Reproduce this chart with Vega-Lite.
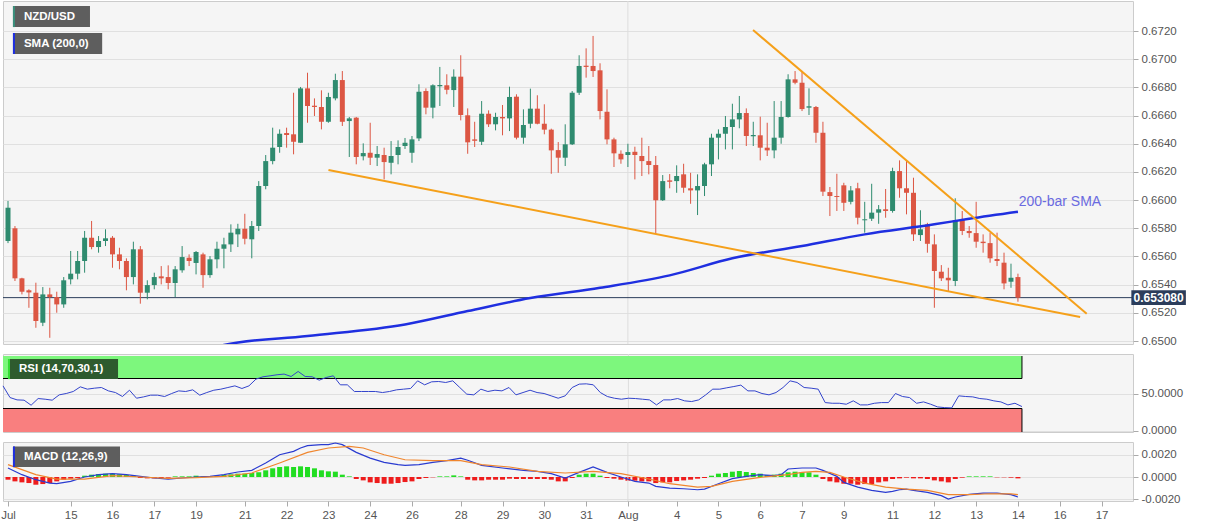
{
  "$schema": "https://vega.github.io/schema/vega-lite/v6.json",
  "padding": 0,
  "background": "#ffffff",
  "spacing": 10,
  "bounds": "flush",
  "config": {
    "font": "Liberation Sans",
    "view": {"fill": "#f5f5f5", "stroke": "#cccccc"},
    "axis": {"domain": false, "labelColor": "#555555", "labelFontSize": 11.5, "tickColor": "#aaaaaa", "tickSize": 5, "labelPadding": 3, "gridColor": "#e0e0e0", "labelOverlap": false}
  },
  "datasets": {
    "bars": [
      {"i":0,"o":0.65710,"h":0.65994,"l":0.65695,"c":0.65946,"rsi":60.2,"hist":-0.00024},
      {"i":1,"o":0.65800,"h":0.65816,"l":0.65426,"c":0.65445,"rsi":44.6,"hist":-0.00039},
      {"i":2,"o":0.65445,"h":0.65449,"l":0.65331,"c":0.65350,"rsi":41.5,"hist":-0.00048},
      {"i":3,"o":0.65360,"h":0.65367,"l":0.65236,"c":0.65345,"rsi":41.1,"hist":-0.00054},
      {"i":4,"o":0.65343,"h":0.65414,"l":0.65094,"c":0.65142,"rsi":34.4,"hist":-0.00069},
      {"i":5,"o":0.65130,"h":0.65383,"l":0.65106,"c":0.65331,"rsi":43.3,"hist":-0.00063},
      {"i":6,"o":0.65331,"h":0.65378,"l":0.65023,"c":0.65312,"rsi":42.4,"hist":-0.00054},
      {"i":7,"o":0.65312,"h":0.65350,"l":0.65201,"c":0.65260,"rsi":41.1,"hist":-0.00039},
      {"i":8,"o":0.65260,"h":0.65454,"l":0.65236,"c":0.65431,"rsi":48.2,"hist":-0.00024},
      {"i":9,"o":0.65438,"h":0.65639,"l":0.65402,"c":0.65478,"rsi":50.0,"hist":-0.00015},
      {"i":10,"o":0.65478,"h":0.65639,"l":0.65438,"c":0.65568,"rsi":52.7,"hist":-0.00009},
      {"i":11,"o":0.65568,"h":0.65781,"l":0.65485,"c":0.65733,"rsi":58.9,"hist":0.00012},
      {"i":12,"o":0.65733,"h":0.65852,"l":0.65651,"c":0.65667,"rsi":55.8,"hist":0.00021},
      {"i":13,"o":0.65667,"h":0.65745,"l":0.65627,"c":0.65710,"rsi":57.1,"hist":0.00027},
      {"i":14,"o":0.65710,"h":0.65793,"l":0.65674,"c":0.65729,"rsi":58.0,"hist":0.00030},
      {"i":15,"o":0.65733,"h":0.65745,"l":0.65520,"c":0.65615,"rsi":53.5,"hist":0.00030},
      {"i":16,"o":0.65615,"h":0.65662,"l":0.65509,"c":0.65568,"rsi":51.3,"hist":0.00024},
      {"i":17,"o":0.65568,"h":0.65587,"l":0.65360,"c":0.65454,"rsi":46.0,"hist":0.00018},
      {"i":18,"o":0.65454,"h":0.65705,"l":0.65402,"c":0.65651,"rsi":54.4,"hist":0.00012},
      {"i":19,"o":0.65651,"h":0.65674,"l":0.65265,"c":0.65343,"rsi":43.7,"hist":-0.00009},
      {"i":20,"o":0.65343,"h":0.65431,"l":0.65296,"c":0.65397,"rsi":45.5,"hist":-0.00012},
      {"i":21,"o":0.65397,"h":0.65485,"l":0.65367,"c":0.65454,"rsi":47.8,"hist":-0.00012},
      {"i":22,"o":0.65459,"h":0.65532,"l":0.65402,"c":0.65445,"rsi":47.8,"hist":-0.00009},
      {"i":23,"o":0.65454,"h":0.65537,"l":0.65367,"c":0.65412,"rsi":46.0,"hist":-0.00006},
      {"i":24,"o":0.65412,"h":0.65532,"l":0.65312,"c":0.65509,"rsi":50.0,"hist":0.00006},
      {"i":25,"o":0.65502,"h":0.65674,"l":0.65485,"c":0.65596,"rsi":53.5,"hist":0.00006},
      {"i":26,"o":0.65591,"h":0.65615,"l":0.65532,"c":0.65568,"rsi":52.7,"hist":0.00006},
      {"i":27,"o":0.65554,"h":0.65639,"l":0.65473,"c":0.65632,"rsi":54.9,"hist":0.00012},
      {"i":28,"o":0.65615,"h":0.65627,"l":0.65378,"c":0.65468,"rsi":47.8,"hist":0.00006},
      {"i":29,"o":0.65468,"h":0.65603,"l":0.65449,"c":0.65580,"rsi":51.3,"hist":0.00006},
      {"i":30,"o":0.65580,"h":0.65705,"l":0.65516,"c":0.65655,"rsi":54.4,"hist":0.00012},
      {"i":31,"o":0.65655,"h":0.65733,"l":0.65516,"c":0.65686,"rsi":55.8,"hist":0.00018},
      {"i":32,"o":0.65686,"h":0.65828,"l":0.65632,"c":0.65769,"rsi":58.0,"hist":0.00024},
      {"i":33,"o":0.65757,"h":0.65832,"l":0.65667,"c":0.65797,"rsi":60.2,"hist":0.00030},
      {"i":34,"o":0.65797,"h":0.65903,"l":0.65686,"c":0.65726,"rsi":56.7,"hist":0.00030},
      {"i":35,"o":0.65722,"h":0.65852,"l":0.65587,"c":0.65816,"rsi":60.2,"hist":0.00036},
      {"i":36,"o":0.65816,"h":0.66135,"l":0.65781,"c":0.66100,"rsi":69.2,"hist":0.00042},
      {"i":37,"o":0.66100,"h":0.66320,"l":0.66077,"c":0.66277,"rsi":72.3,"hist":0.00060},
      {"i":38,"o":0.66277,"h":0.66514,"l":0.66254,"c":0.66372,"rsi":73.6,"hist":0.00078},
      {"i":39,"o":0.66377,"h":0.66502,"l":0.66336,"c":0.66471,"rsi":75.0,"hist":0.00090},
      {"i":40,"o":0.66476,"h":0.66514,"l":0.66372,"c":0.66462,"rsi":75.9,"hist":0.00096},
      {"i":41,"o":0.66467,"h":0.66762,"l":0.66325,"c":0.66414,"rsi":72.7,"hist":0.00090},
      {"i":42,"o":0.66407,"h":0.66803,"l":0.66405,"c":0.66793,"rsi":79.4,"hist":0.00096},
      {"i":43,"o":0.66793,"h":0.66904,"l":0.66549,"c":0.66668,"rsi":72.7,"hist":0.00090},
      {"i":44,"o":0.66670,"h":0.66722,"l":0.66597,"c":0.66661,"rsi":72.3,"hist":0.00078},
      {"i":45,"o":0.66661,"h":0.66779,"l":0.66502,"c":0.66556,"rsi":67.8,"hist":0.00060},
      {"i":46,"o":0.66556,"h":0.66762,"l":0.66549,"c":0.66732,"rsi":71.4,"hist":0.00051},
      {"i":47,"o":0.66722,"h":0.66897,"l":0.66708,"c":0.66852,"rsi":73.6,"hist":0.00048},
      {"i":48,"o":0.66852,"h":0.66916,"l":0.66526,"c":0.66556,"rsi":61.6,"hist":0.00021},
      {"i":49,"o":0.66561,"h":0.66590,"l":0.66306,"c":0.66580,"rsi":61.6,"hist":0.00006},
      {"i":50,"o":0.66585,"h":0.66590,"l":0.66254,"c":0.66306,"rsi":52.7,"hist":-0.00018},
      {"i":51,"o":0.66311,"h":0.66403,"l":0.66282,"c":0.66334,"rsi":52.7,"hist":-0.00030},
      {"i":52,"o":0.66336,"h":0.66549,"l":0.66249,"c":0.66301,"rsi":52.7,"hist":-0.00048},
      {"i":53,"o":0.66301,"h":0.66384,"l":0.66242,"c":0.66327,"rsi":52.7,"hist":-0.00054},
      {"i":54,"o":0.66320,"h":0.66372,"l":0.66147,"c":0.66270,"rsi":51.3,"hist":-0.00060},
      {"i":55,"o":0.66265,"h":0.66419,"l":0.66183,"c":0.66313,"rsi":52.7,"hist":-0.00060},
      {"i":56,"o":0.66320,"h":0.66424,"l":0.66254,"c":0.66377,"rsi":54.9,"hist":-0.00054},
      {"i":57,"o":0.66384,"h":0.66441,"l":0.66363,"c":0.66407,"rsi":55.8,"hist":-0.00045},
      {"i":58,"o":0.66336,"h":0.66455,"l":0.66265,"c":0.66431,"rsi":56.7,"hist":-0.00039},
      {"i":59,"o":0.66438,"h":0.66822,"l":0.66419,"c":0.66769,"rsi":66.9,"hist":-0.00018},
      {"i":60,"o":0.66774,"h":0.66793,"l":0.66609,"c":0.66656,"rsi":61.6,"hist":-0.00009},
      {"i":61,"o":0.66656,"h":0.66822,"l":0.66580,"c":0.66815,"rsi":65.6,"hist":-0.00003},
      {"i":62,"o":0.66808,"h":0.66945,"l":0.66668,"c":0.66817,"rsi":66.0,"hist":0.00006},
      {"i":63,"o":0.66815,"h":0.66893,"l":0.66751,"c":0.66783,"rsi":64.7,"hist":0.00006},
      {"i":64,"o":0.66781,"h":0.66928,"l":0.66661,"c":0.66876,"rsi":66.9,"hist":0.00015},
      {"i":65,"o":0.66876,"h":0.67028,"l":0.66566,"c":0.66604,"rsi":58.0,"hist":0.00006},
      {"i":66,"o":0.66602,"h":0.66651,"l":0.66329,"c":0.66410,"rsi":49.1,"hist":-0.00024},
      {"i":67,"o":0.66431,"h":0.66556,"l":0.66377,"c":0.66421,"rsi":48.2,"hist":-0.00030},
      {"i":68,"o":0.66414,"h":0.66703,"l":0.66391,"c":0.66613,"rsi":55.8,"hist":-0.00030},
      {"i":69,"o":0.66613,"h":0.66637,"l":0.66519,"c":0.66538,"rsi":52.7,"hist":-0.00024},
      {"i":70,"o":0.66538,"h":0.66620,"l":0.66495,"c":0.66590,"rsi":54.4,"hist":-0.00024},
      {"i":71,"o":0.66590,"h":0.66675,"l":0.66460,"c":0.66580,"rsi":53.5,"hist":-0.00024},
      {"i":72,"o":0.66580,"h":0.66805,"l":0.66490,"c":0.66732,"rsi":58.0,"hist":-0.00015},
      {"i":73,"o":0.66734,"h":0.66751,"l":0.66431,"c":0.66443,"rsi":48.2,"hist":-0.00018},
      {"i":74,"o":0.66443,"h":0.66644,"l":0.66400,"c":0.66533,"rsi":51.3,"hist":-0.00018},
      {"i":75,"o":0.66542,"h":0.66791,"l":0.66510,"c":0.66649,"rsi":54.4,"hist":-0.00018},
      {"i":76,"o":0.66649,"h":0.66744,"l":0.66538,"c":0.66542,"rsi":51.3,"hist":-0.00018},
      {"i":77,"o":0.66542,"h":0.66680,"l":0.66467,"c":0.66500,"rsi":50.0,"hist":-0.00018},
      {"i":78,"o":0.66500,"h":0.66507,"l":0.66187,"c":0.66353,"rsi":46.9,"hist":-0.00024},
      {"i":79,"o":0.66355,"h":0.66412,"l":0.66194,"c":0.66301,"rsi":43.7,"hist":-0.00039},
      {"i":80,"o":0.66301,"h":0.66538,"l":0.66242,"c":0.66396,"rsi":46.9,"hist":-0.00039},
      {"i":81,"o":0.66396,"h":0.66774,"l":0.66391,"c":0.66762,"rsi":58.0,"hist":-0.00009},
      {"i":82,"o":0.66762,"h":0.67028,"l":0.66746,"c":0.66952,"rsi":62.5,"hist":0.00021},
      {"i":83,"o":0.66954,"h":0.67077,"l":0.66869,"c":0.66945,"rsi":62.9,"hist":0.00030},
      {"i":84,"o":0.66952,"h":0.67165,"l":0.66874,"c":0.66916,"rsi":61.6,"hist":0.00030},
      {"i":85,"o":0.66921,"h":0.66971,"l":0.66573,"c":0.66632,"rsi":51.3,"hist":0.00012},
      {"i":86,"o":0.66627,"h":0.66786,"l":0.66396,"c":0.66431,"rsi":46.0,"hist":-0.00009},
      {"i":87,"o":0.66431,"h":0.66443,"l":0.66235,"c":0.66332,"rsi":43.7,"hist":-0.00015},
      {"i":88,"o":0.66329,"h":0.66353,"l":0.66258,"c":0.66289,"rsi":42.4,"hist":-0.00024},
      {"i":89,"o":0.66320,"h":0.66400,"l":0.66235,"c":0.66341,"rsi":43.7,"hist":-0.00033},
      {"i":90,"o":0.66343,"h":0.66379,"l":0.66147,"c":0.66320,"rsi":43.3,"hist":-0.00033},
      {"i":91,"o":0.66313,"h":0.66443,"l":0.66171,"c":0.66277,"rsi":42.4,"hist":-0.00039},
      {"i":92,"o":0.66277,"h":0.66384,"l":0.66183,"c":0.66249,"rsi":41.5,"hist":-0.00039},
      {"i":93,"o":0.66249,"h":0.66313,"l":0.65761,"c":0.65999,"rsi":34.8,"hist":-0.00054},
      {"i":94,"o":0.65999,"h":0.66178,"l":0.65994,"c":0.66135,"rsi":41.5,"hist":-0.00048},
      {"i":95,"o":0.66140,"h":0.66185,"l":0.66084,"c":0.66130,"rsi":41.5,"hist":-0.00048},
      {"i":96,"o":0.66135,"h":0.66247,"l":0.66052,"c":0.66171,"rsi":43.3,"hist":-0.00036},
      {"i":97,"o":0.66183,"h":0.66258,"l":0.66052,"c":0.66088,"rsi":40.2,"hist":-0.00030},
      {"i":98,"o":0.66084,"h":0.66194,"l":0.65974,"c":0.66069,"rsi":39.3,"hist":-0.00024},
      {"i":99,"o":0.66069,"h":0.66183,"l":0.65894,"c":0.66100,"rsi":41.5,"hist":-0.00015},
      {"i":100,"o":0.66100,"h":0.66265,"l":0.66029,"c":0.66254,"rsi":48.2,"hist":-0.00009},
      {"i":101,"o":0.66254,"h":0.66471,"l":0.66171,"c":0.66443,"rsi":55.8,"hist":0.00012},
      {"i":102,"o":0.66443,"h":0.66502,"l":0.66289,"c":0.66471,"rsi":55.8,"hist":0.00030},
      {"i":103,"o":0.66471,"h":0.66597,"l":0.66360,"c":0.66519,"rsi":57.6,"hist":0.00036},
      {"i":104,"o":0.66519,"h":0.66684,"l":0.66360,"c":0.66573,"rsi":59.3,"hist":0.00048},
      {"i":105,"o":0.66573,"h":0.66739,"l":0.66510,"c":0.66618,"rsi":61.2,"hist":0.00054},
      {"i":106,"o":0.66618,"h":0.66651,"l":0.66384,"c":0.66455,"rsi":53.5,"hist":0.00045},
      {"i":107,"o":0.66453,"h":0.66556,"l":0.66384,"c":0.66462,"rsi":53.5,"hist":0.00036},
      {"i":108,"o":0.66460,"h":0.66592,"l":0.66282,"c":0.66372,"rsi":50.0,"hist":0.00030},
      {"i":109,"o":0.66372,"h":0.66549,"l":0.66313,"c":0.66353,"rsi":48.2,"hist":0.00018},
      {"i":110,"o":0.66353,"h":0.66703,"l":0.66297,"c":0.66443,"rsi":51.3,"hist":0.00021},
      {"i":111,"o":0.66443,"h":0.66703,"l":0.66400,"c":0.66590,"rsi":58.0,"hist":0.00030},
      {"i":112,"o":0.66590,"h":0.66893,"l":0.66585,"c":0.66857,"rsi":66.9,"hist":0.00042},
      {"i":113,"o":0.66857,"h":0.66916,"l":0.66822,"c":0.66833,"rsi":64.7,"hist":0.00048},
      {"i":114,"o":0.66833,"h":0.66916,"l":0.66632,"c":0.66646,"rsi":58.0,"hist":0.00042},
      {"i":115,"o":0.66656,"h":0.66793,"l":0.66604,"c":0.66666,"rsi":57.1,"hist":0.00042},
      {"i":116,"o":0.66661,"h":0.66668,"l":0.66407,"c":0.66478,"rsi":55.8,"hist":0.00021},
      {"i":117,"o":0.66478,"h":0.66556,"l":0.66029,"c":0.66060,"rsi":37.9,"hist":-0.00018},
      {"i":118,"o":0.66057,"h":0.66093,"l":0.65887,"c":0.66029,"rsi":37.0,"hist":-0.00039},
      {"i":119,"o":0.66029,"h":0.66187,"l":0.65923,"c":0.66022,"rsi":37.0,"hist":-0.00048},
      {"i":120,"o":0.66105,"h":0.66123,"l":0.65923,"c":0.65981,"rsi":35.7,"hist":-0.00060},
      {"i":121,"o":0.65988,"h":0.66100,"l":0.65970,"c":0.66069,"rsi":40.2,"hist":-0.00060},
      {"i":122,"o":0.66084,"h":0.66123,"l":0.65828,"c":0.65875,"rsi":34.8,"hist":-0.00069},
      {"i":123,"o":0.65857,"h":0.65988,"l":0.65769,"c":0.65864,"rsi":34.8,"hist":-0.00063},
      {"i":124,"o":0.65868,"h":0.66116,"l":0.65852,"c":0.65911,"rsi":37.0,"hist":-0.00063},
      {"i":125,"o":0.65911,"h":0.65965,"l":0.65832,"c":0.65935,"rsi":37.9,"hist":-0.00048},
      {"i":126,"o":0.65935,"h":0.66079,"l":0.65875,"c":0.65923,"rsi":37.9,"hist":-0.00039},
      {"i":127,"o":0.65923,"h":0.66230,"l":0.65911,"c":0.66206,"rsi":50.0,"hist":-0.00018},
      {"i":128,"o":0.66206,"h":0.66282,"l":0.66017,"c":0.66084,"rsi":46.0,"hist":-0.00012},
      {"i":129,"o":0.66084,"h":0.66277,"l":0.65899,"c":0.66052,"rsi":44.6,"hist":-0.00006},
      {"i":130,"o":0.66052,"h":0.66159,"l":0.65710,"c":0.65757,"rsi":37.0,"hist":-0.00012},
      {"i":131,"o":0.65752,"h":0.65928,"l":0.65710,"c":0.65793,"rsi":38.8,"hist":-0.00012},
      {"i":132,"o":0.65828,"h":0.65839,"l":0.65627,"c":0.65690,"rsi":35.7,"hist":-0.00018},
      {"i":133,"o":0.65686,"h":0.65757,"l":0.65236,"c":0.65497,"rsi":32.1,"hist":-0.00030},
      {"i":134,"o":0.65492,"h":0.65539,"l":0.65426,"c":0.65445,"rsi":31.2,"hist":-0.00039},
      {"i":135,"o":0.65449,"h":0.65520,"l":0.65355,"c":0.65431,"rsi":30.8,"hist":-0.00048},
      {"i":136,"o":0.65426,"h":0.66013,"l":0.65390,"c":0.65857,"rsi":46.9,"hist":-0.00018},
      {"i":137,"o":0.65864,"h":0.65923,"l":0.65752,"c":0.65781,"rsi":46.0,"hist":-0.00006},
      {"i":138,"o":0.65781,"h":0.65816,"l":0.65733,"c":0.65766,"rsi":45.5,"hist":0.00006},
      {"i":139,"o":0.65766,"h":0.65988,"l":0.65662,"c":0.65705,"rsi":43.3,"hist":0.00006},
      {"i":140,"o":0.65705,"h":0.65757,"l":0.65627,"c":0.65695,"rsi":42.4,"hist":0.00006},
      {"i":141,"o":0.65695,"h":0.65769,"l":0.65556,"c":0.65587,"rsi":40.2,"hist":0.00006},
      {"i":142,"o":0.65582,"h":0.65769,"l":0.65532,"c":0.65568,"rsi":38.8,"hist":-0.00003},
      {"i":143,"o":0.65556,"h":0.65627,"l":0.65367,"c":0.65409,"rsi":34.8,"hist":-0.00003},
      {"i":144,"o":0.65421,"h":0.65549,"l":0.65378,"c":0.65449,"rsi":37.0,"hist":-0.00006},
      {"i":145,"o":0.65454,"h":0.65478,"l":0.65279,"c":0.65308,"rsi":32.6,"hist":-0.00012}
    ],
    "sma": [
      {"i":29,"p":0.6494},{"i":31,"p":0.64972},{"i":43,"p":0.65036},{"i":57,"p":0.65118},
      {"i":66,"p":0.65213},{"i":75,"p":0.65305},{"i":85,"p":0.65378},{"i":95,"p":0.65466},
      {"i":104,"p":0.65587},{"i":114,"p":0.65674},{"i":123,"p":0.65757},{"i":133,"p":0.65828},
      {"i":138,"p":0.65868},{"i":145,"p":0.65918}
    ],
    "trend": [
      {"t":"upper","i":106.97,"p":0.67207},{"t":"upper","i":154.87,"p":0.65194},
      {"t":"lower","i":46.01,"p":0.66214},{"t":"lower","i":153.93,"p":0.65170}
    ],
    "macd": [
      {"s":"MACD","i":0,"v":0.00081},{"s":"MACD","i":2,"v":0.00021},{"s":"MACD","i":4,"v":-0.00024},{"s":"MACD","i":6,"v":-0.00054},
      {"s":"MACD","i":7,"v":-0.00060},{"s":"MACD","i":9,"v":-0.00039},{"s":"MACD","i":11,"v":0},{"s":"MACD","i":13,"v":0.00021},
      {"s":"MACD","i":15,"v":0.00030},{"s":"MACD","i":17,"v":0.00021},{"s":"MACD","i":19,"v":0.00006},{"s":"MACD","i":21,"v":-0.00009},
      {"s":"MACD","i":23,"v":-0.00018},{"s":"MACD","i":25,"v":-0.00009},{"s":"MACD","i":27,"v":0},{"s":"MACD","i":29,"v":0.00006},
      {"s":"MACD","i":31,"v":0.00021},{"s":"MACD","i":33,"v":0.00045},{"s":"MACD","i":35,"v":0.00060},{"s":"MACD","i":37,"v":0.00126},
      {"s":"MACD","i":39,"v":0.00200},{"s":"MACD","i":41,"v":0.00230},{"s":"MACD","i":42,"v":0.00260},{"s":"MACD","i":43,"v":0.00281},
      {"s":"MACD","i":45,"v":0.00290},{"s":"MACD","i":46,"v":0.00290},{"s":"MACD","i":47,"v":0.00305},{"s":"MACD","i":48,"v":0.00290},
      {"s":"MACD","i":50,"v":0.00221},{"s":"MACD","i":52,"v":0.00170},{"s":"MACD","i":54,"v":0.00132},{"s":"MACD","i":56,"v":0.00111},
      {"s":"MACD","i":57,"v":0.00105},{"s":"MACD","i":59,"v":0.00111},{"s":"MACD","i":61,"v":0.00132},{"s":"MACD","i":63,"v":0.00147},
      {"s":"MACD","i":65,"v":0.00170},{"s":"MACD","i":66,"v":0.00150},{"s":"MACD","i":68,"v":0.00105},{"s":"MACD","i":71,"v":0.00081},
      {"s":"MACD","i":74,"v":0.00060},{"s":"MACD","i":76,"v":0.00051},{"s":"MACD","i":78,"v":0.00030},{"s":"MACD","i":80,"v":-0.00009},
      {"s":"MACD","i":82,"v":0.00042},{"s":"MACD","i":84,"v":0.00090},{"s":"MACD","i":86,"v":0.00042},{"s":"MACD","i":88,"v":0},
      {"s":"MACD","i":90,"v":-0.00039},{"s":"MACD","i":92,"v":-0.00054},{"s":"MACD","i":93,"v":-0.00084},{"s":"MACD","i":95,"v":-0.00099},
      {"s":"MACD","i":97,"v":-0.00105},{"s":"MACD","i":99,"v":-0.00114},{"s":"MACD","i":100,"v":-0.00108},{"s":"MACD","i":102,"v":-0.00060},
      {"s":"MACD","i":104,"v":-0.00015},{"s":"MACD","i":106,"v":0.00006},{"s":"MACD","i":108,"v":0.00021},{"s":"MACD","i":110,"v":0.00012},
      {"s":"MACD","i":111,"v":0.00021},{"s":"MACD","i":112,"v":0.00072},{"s":"MACD","i":114,"v":0.00081},{"s":"MACD","i":116,"v":0.00081},
      {"s":"MACD","i":117,"v":0.00060},{"s":"MACD","i":119,"v":0.00006},{"s":"MACD","i":120,"v":-0.00048},{"s":"MACD","i":122,"v":-0.00090},
      {"s":"MACD","i":124,"v":-0.00120},{"s":"MACD","i":126,"v":-0.00138},{"s":"MACD","i":127,"v":-0.00129},{"s":"MACD","i":128,"v":-0.00114},
      {"s":"MACD","i":129,"v":-0.00108},{"s":"MACD","i":130,"v":-0.00120},{"s":"MACD","i":132,"v":-0.00138},{"s":"MACD","i":134,"v":-0.00167},
      {"s":"MACD","i":135,"v":-0.00197},{"s":"MACD","i":136,"v":-0.00179},{"s":"MACD","i":138,"v":-0.00155},{"s":"MACD","i":140,"v":-0.00144},
      {"s":"MACD","i":142,"v":-0.00144},{"s":"MACD","i":144,"v":-0.00158},{"s":"MACD","i":145,"v":-0.00179},
      {"s":"Signal","i":0,"v":0.00111},{"s":"Signal","i":4,"v":0.00021},{"s":"Signal","i":7,"v":-0.00018},{"s":"Signal","i":11,"v":-0.00018},
      {"s":"Signal","i":15,"v":0.00012},{"s":"Signal","i":19,"v":0},{"s":"Signal","i":23,"v":-0.00012},{"s":"Signal","i":27,"v":-0.00006},
      {"s":"Signal","i":31,"v":0.00006},{"s":"Signal","i":35,"v":0.00036},{"s":"Signal","i":39,"v":0.00126},{"s":"Signal","i":43,"v":0.00221},
      {"s":"Signal","i":46,"v":0.00260},{"s":"Signal","i":49,"v":0.00275},{"s":"Signal","i":51,"v":0.00260},{"s":"Signal","i":54,"v":0.00200},
      {"s":"Signal","i":57,"v":0.00155},{"s":"Signal","i":61,"v":0.00147},{"s":"Signal","i":65,"v":0.00147},{"s":"Signal","i":68,"v":0.00111},
      {"s":"Signal","i":72,"v":0.00090},{"s":"Signal","i":76,"v":0.00051},{"s":"Signal","i":80,"v":0.00036},{"s":"Signal","i":84,"v":0.00051},
      {"s":"Signal","i":88,"v":0.00030},{"s":"Signal","i":92,"v":-0.00018},{"s":"Signal","i":95,"v":-0.00060},{"s":"Signal","i":99,"v":-0.00090},
      {"s":"Signal","i":101,"v":-0.00084},{"s":"Signal","i":104,"v":-0.00039},{"s":"Signal","i":108,"v":-0.00003},{"s":"Signal","i":112,"v":0.00021},
      {"s":"Signal","i":114,"v":0.00042},{"s":"Signal","i":116,"v":0.00051},{"s":"Signal","i":118,"v":0.00042},{"s":"Signal","i":120,"v":0},
      {"s":"Signal","i":123,"v":-0.00054},{"s":"Signal","i":126,"v":-0.00090},{"s":"Signal","i":129,"v":-0.00108},{"s":"Signal","i":132,"v":-0.00120},
      {"s":"Signal","i":135,"v":-0.00158},{"s":"Signal","i":138,"v":-0.00158},{"s":"Signal","i":141,"v":-0.00150},{"s":"Signal","i":144,"v":-0.00152},
      {"s":"Signal","i":145,"v":-0.00158}
    ]
  },
  "vconcat": [
    {
      "width": 1130,
      "height": 343,
      "layer": [
        {
          "data": {"name": "bars"},
          "mark": {"type": "rule", "strokeWidth": 1, "opacity": 0},
          "encoding": {
            "x": {"field": "i", "type": "quantitative", "scale": {"domain": [0, 160.8], "nice": false, "zero": false}, "axis": null},
            "y": {"field": "l", "type": "quantitative", "scale": {"domain": [0.64979, 0.67413], "nice": false, "zero": false},
                  "axis": {"orient": "right", "title": null, "grid": true, "labelOverlap": false, "tickCount": 30, "format": ".4f", "values": [0.650, 0.652, 0.654, 0.656, 0.658, 0.660, 0.662, 0.664, 0.666, 0.668, 0.670, 0.672]}},
            "y2": {"field": "h"}
          }
        },
        {
          "data": {"values": [{}]},
          "mark": {"type": "rule", "color": "#dddddd"},
          "encoding": {"x": {"datum": 89, "type": "quantitative", "axis": null}}
        },
        {
          "data": {"values": [{}]},
          "mark": {"type": "rule", "color": "#2b3d5b", "strokeWidth": 1},
          "encoding": {"y": {"datum": 0.65308, "type": "quantitative", "title": null}}
        },
        {
          "data": {"name": "bars"},
          "mark": {"type": "rule", "strokeWidth": 1, "clip": true},
          "encoding": {
            "x": {"field": "i", "type": "quantitative", "axis": null},
            "y": {"field": "l", "type": "quantitative", "title": null},
            "y2": {"field": "h"},
            "color": {"condition": {"test": "datum.c >= datum.o", "value": "#2f8b6f"}, "value": "#dc5643"}
          }
        },
        {
          "data": {"name": "bars"},
          "mark": {"type": "bar", "width": 5, "clip": true},
          "encoding": {
            "x": {"field": "i", "type": "quantitative", "axis": null},
            "y": {"field": "o", "type": "quantitative", "title": null},
            "y2": {"field": "c"},
            "color": {"condition": {"test": "datum.c >= datum.o", "value": "#2f8b6f"}, "value": "#dc5643"}
          }
        },
        {
          "data": {"name": "sma"},
          "mark": {"type": "line", "color": "#1f2fe0", "strokeWidth": 2.5, "interpolate": "monotone", "clip": true},
          "encoding": {
            "x": {"field": "i", "type": "quantitative", "axis": null},
            "y": {"field": "p", "type": "quantitative", "title": null}
          }
        },
        {
          "data": {"name": "trend"},
          "mark": {"type": "line", "color": "#f5a01a", "strokeWidth": 2, "clip": true},
          "encoding": {
            "x": {"field": "i", "type": "quantitative", "axis": null},
            "y": {"field": "p", "type": "quantitative", "title": null},
            "detail": {"field": "t"}
          }
        },
        {
          "data": {"values": [{}]},
          "mark": {"type": "rect", "color": "#5e5e5e"},
          "encoding": {"x": {"datum": 0.71, "axis": null}, "x2": {"datum": 11.77}, "y": {"datum": 0.67377, "title": null}, "y2": {"datum": 0.67228}}
        },
        {
          "data": {"values": [{}]},
          "mark": {"type": "rect", "color": "#3b8f7c"},
          "encoding": {"x": {"datum": 0.71, "axis": null}, "x2": {"datum": 1.0}, "y": {"datum": 0.67377, "title": null}, "y2": {"datum": 0.67228}}
        },
        {
          "data": {"values": [{}]},
          "mark": {"type": "text", "align": "left", "baseline": "middle", "color": "#ffffff", "fontSize": 11.5, "fontWeight": "bold"},
          "encoding": {"x": {"datum": 2.28, "axis": null}, "y": {"datum": 0.67303, "title": null}, "text": {"value": "NZD/USD"}}
        },
        {
          "data": {"values": [{}]},
          "mark": {"type": "rect", "color": "#5e5e5e"},
          "encoding": {"x": {"datum": 0.71, "axis": null}, "x2": {"datum": 13.52}, "y": {"datum": 0.67186, "title": null}, "y2": {"datum": 0.67037}}
        },
        {
          "data": {"values": [{}]},
          "mark": {"type": "rect", "color": "#1f2fe0"},
          "encoding": {"x": {"datum": 0.71, "axis": null}, "x2": {"datum": 1.0}, "y": {"datum": 0.67186, "title": null}, "y2": {"datum": 0.67037}}
        },
        {
          "data": {"values": [{}]},
          "mark": {"type": "text", "align": "left", "baseline": "middle", "color": "#ffffff", "fontSize": 11.5, "fontWeight": "bold"},
          "encoding": {"x": {"datum": 2.28, "axis": null}, "y": {"datum": 0.67111, "title": null}, "text": {"value": "SMA (200,0)"}}
        },
        {
          "data": {"values": [{}]},
          "mark": {"type": "text", "align": "left", "baseline": "middle", "color": "#6a6ae0", "fontSize": 14},
          "encoding": {"x": {"datum": 145.1, "axis": null}, "y": {"datum": 0.65986, "title": null}, "text": {"value": "200-bar SMA"}}
        },
        {
          "data": {"values": [{}]},
          "mark": {"type": "rect", "color": "#2b3d5b"},
          "encoding": {"x": {"datum": 161.28, "axis": null}, "x2": {"datum": 169.11}, "y": {"datum": 0.65360, "title": null}, "y2": {"datum": 0.65256}}
        },
        {
          "data": {"values": [{}]},
          "mark": {"type": "text", "align": "center", "baseline": "middle", "color": "#ffffff", "fontSize": 12, "fontWeight": "bold"},
          "encoding": {"x": {"datum": 165.2, "axis": null}, "y": {"datum": 0.65308, "title": null}, "text": {"value": "0.653080"}}
        }
      ]
    },
    {
      "width": 1130,
      "height": 78,
      "layer": [
        {
          "data": {"name": "bars"},
          "mark": {"type": "line", "color": "#3344cc", "strokeWidth": 1, "opacity": 0},
          "encoding": {
            "x": {"field": "i", "type": "quantitative", "scale": {"domain": [0, 160.8], "nice": false, "zero": false}, "axis": null},
            "y": {"field": "rsi", "type": "quantitative", "scale": {"domain": [-1.34, 102.7], "nice": false, "zero": false},
                  "axis": {"orient": "right", "title": null, "grid": true, "labelOverlap": false, "tickCount": 10, "format": ".4f", "values": [0, 50]}}
          }
        },
        {
          "data": {"values": [{}]},
          "mark": {"type": "rule", "color": "#dddddd"},
          "encoding": {"x": {"datum": 89, "type": "quantitative", "axis": null}}
        },
        {
          "data": {"values": [{}]},
          "mark": {"type": "rect", "color": "#7df77d"},
          "encoding": {"x": {"datum": 0, "axis": null}, "x2": {"datum": 145}, "y": {"datum": 70, "title": null}, "y2": {"datum": 100}}
        },
        {
          "data": {"values": [{}]},
          "mark": {"type": "rect", "color": "#f97f7f"},
          "encoding": {"x": {"datum": 0, "axis": null}, "x2": {"datum": 145}, "y": {"datum": -1.34, "title": null}, "y2": {"datum": 30}}
        },
        {
          "data": {"values": [{}]},
          "mark": {"type": "rule", "color": "#000000", "strokeWidth": 1},
          "encoding": {"x": {"datum": 0, "axis": null}, "x2": {"datum": 145}, "y": {"datum": 70, "title": null}}
        },
        {
          "data": {"values": [{}]},
          "mark": {"type": "rule", "color": "#000000", "strokeWidth": 1},
          "encoding": {"x": {"datum": 0, "axis": null}, "x2": {"datum": 145}, "y": {"datum": 30, "title": null}}
        },
        {
          "data": {"values": [{}]},
          "mark": {"type": "rule", "color": "#000000", "strokeWidth": 1},
          "encoding": {"x": {"datum": 145, "axis": null}, "y": {"datum": 70, "title": null}, "y2": {"datum": 100}}
        },
        {
          "data": {"values": [{}]},
          "mark": {"type": "rule", "color": "#000000", "strokeWidth": 1},
          "encoding": {"x": {"datum": 145, "axis": null}, "y": {"datum": -1.34, "title": null}, "y2": {"datum": 30}}
        },
        {
          "data": {"name": "bars"},
          "mark": {"type": "line", "color": "#3344cc", "strokeWidth": 1},
          "encoding": {
            "x": {"field": "i", "type": "quantitative", "axis": null},
            "y": {"field": "rsi", "type": "quantitative", "title": null}
          }
        },
        {
          "data": {"values": [{}]},
          "mark": {"type": "rect", "color": "#2e5b2e"},
          "encoding": {"x": {"datum": 0.71, "axis": null}, "x2": {"datum": 16.37}, "y": {"datum": 69.2, "title": null}, "y2": {"datum": 96}}
        },
        {
          "data": {"values": [{}]},
          "mark": {"type": "rect", "color": "#33dd33"},
          "encoding": {"x": {"datum": 0.71, "axis": null}, "x2": {"datum": 1.0}, "y": {"datum": 69.2, "title": null}, "y2": {"datum": 96}}
        },
        {
          "data": {"values": [{}]},
          "mark": {"type": "text", "align": "left", "baseline": "middle", "color": "#ffffff", "fontSize": 11.5, "fontWeight": "bold"},
          "encoding": {"x": {"datum": 2.28, "axis": null}, "y": {"datum": 82.6, "title": null}, "text": {"value": "RSI (14,70,30,1)"}}
        }
      ]
    },
    {
      "width": 1130,
      "height": 59,
      "layer": [
        {
          "data": {"name": "bars"},
          "mark": {"type": "bar", "width": 5},
          "encoding": {
            "x": {"field": "i", "type": "quantitative", "scale": {"domain": [0, 160.8], "nice": false, "zero": false},
                  "axis": {"orient": "bottom", "title": null, "grid": false, "labelFlush": true, "labelOverlap": false, "tickCount": 60,
                           "values": [0, 9, 15, 21, 27, 34, 40, 46, 52, 58, 65, 71, 77, 83, 89, 96, 102, 108, 114, 120, 127, 133, 139, 145, 151, 157],
                           "labelExpr": "['Jul','15','16','17','19','21','22','23','24','26','28','29','30','31','Aug','4','5','6','7','9','11','12','13','14','16','17'][indexof([0,9,15,21,27,34,40,46,52,58,65,71,77,83,89,96,102,108,114,120,127,133,139,145,151,157], datum.value)]"}},
            "y": {"field": "hist", "type": "quantitative", "scale": {"domain": [-0.00215, 0.00314], "nice": false, "zero": false},
                  "axis": {"orient": "right", "title": null, "grid": true, "labelOverlap": false, "tickCount": 10, "values": [-0.002, 0, 0.002], "labelExpr": "replace(format(datum.value, '.4f'), '\u2212', '-')"}},
            "y2": {"datum": 0},
            "color": {"condition": {"test": "datum.hist >= 0", "value": "#22dd22"}, "value": "#ee1c1c"}
          }
        },
        {
          "data": {"values": [{}]},
          "mark": {"type": "rule", "color": "#dddddd"},
          "encoding": {"x": {"datum": 89, "type": "quantitative", "title": null}}
        },
        {
          "data": {"name": "macd"},
          "mark": {"type": "line", "strokeWidth": 1.2},
          "encoding": {
            "x": {"field": "i", "type": "quantitative", "title": null},
            "y": {"field": "v", "type": "quantitative", "title": null},
            "color": {"field": "s", "type": "nominal", "scale": {"domain": ["MACD", "Signal"], "range": ["#2a3bd0", "#f0862e"]}, "legend": null}
          }
        },
        {
          "data": {"values": [{}]},
          "mark": {"type": "rect", "color": "#5e5e5e"},
          "encoding": {"x": {"datum": 0.71, "title": null}, "x2": {"datum": 16.08}, "y": {"datum": 0.00274, "title": null}, "y2": {"datum": 0.00089}}
        },
        {
          "data": {"values": [{}]},
          "mark": {"type": "rect", "color": "#1f2fe0"},
          "encoding": {"x": {"datum": 0.71, "title": null}, "x2": {"datum": 1.0}, "y": {"datum": 0.00274, "title": null}, "y2": {"datum": 0.00089}}
        },
        {
          "data": {"values": [{}]},
          "mark": {"type": "text", "align": "left", "baseline": "middle", "color": "#ffffff", "fontSize": 11.5, "fontWeight": "bold"},
          "encoding": {"x": {"datum": 2.28, "title": null}, "y": {"datum": 0.00182, "title": null}, "text": {"value": "MACD (12,26,9)"}}
        }
      ]
    }
  ]
}
